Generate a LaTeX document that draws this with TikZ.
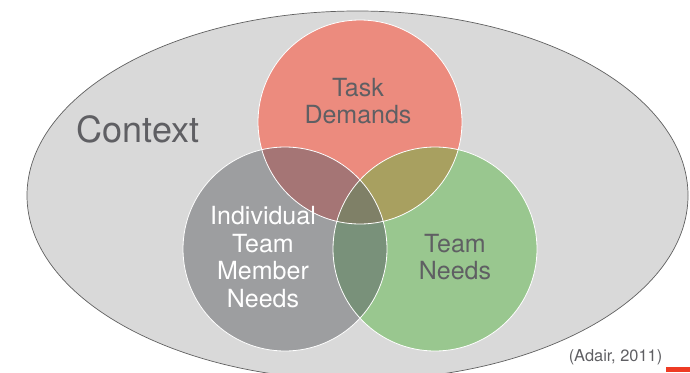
\documentclass[tikz,border=0pt]{standalone}
\usepackage{fontspec}
\setmainfont{TeX Gyre Heros}
\usetikzlibrary{shapes.geometric}
\definecolor{ctxgray}{HTML}{D9D9D9}
\definecolor{edgegray}{HTML}{606060}
\definecolor{taskred}{HTML}{EC8B7E}
\definecolor{indgray}{HTML}{9D9EA0}
\definecolor{teamgreen}{HTML}{99C78F}
\definecolor{redgray}{HTML}{A57575}
\definecolor{redgreen}{HTML}{A8A060}
\definecolor{graygreen}{HTML}{79917A}
\definecolor{allthree}{HTML}{7F8067}
\definecolor{txtgray}{HTML}{5F5F63}
\definecolor{markred}{HTML}{EE3B24}

\begin{document}
\begin{tikzpicture}[x=1pt, y=-1pt,
        ring/.style={circle, minimum size=204pt, inner sep=0pt},
        rim/.style={white, line width=0.8pt},
        lbl/.style={font=\fontsize{25}{27.5}\selectfont, text=txtgray, align=center},
        src/.style={font=\fontsize{16.4}{18}\selectfont, text=txtgray}
      ]
        \clip (0,0) rectangle (690,372);
        \node[ellipse, draw=edgegray, fill=ctxgray, line width=0.7pt, minimum width=661pt, minimum height=369pt, inner sep=0pt] (ctx) at (357.5,195.5) {};
        \node[ring, fill=taskred] (task) at (360,122) {};
        \node[ring, fill=indgray] (indiv) at (285,249) {};
        \node[ring, fill=teamgreen] (team) at (435,249) {};
        % overlaps
        \begin{scope}
          \clip (indiv.center) circle (102pt);
          \fill[graygreen] (team.center) circle (102pt);
        \end{scope}
        \begin{scope}
          \clip (task.center) circle (102pt);
          \fill[redgray] (indiv.center) circle (102pt);
          \fill[redgreen] (team.center) circle (102pt);
          \clip (indiv.center) circle (102pt);
          \fill[allthree] (team.center) circle (102pt);
        \end{scope}
        \foreach \c in {task,indiv,team} { \draw[rim] (\c.center) circle (102pt); }
        \node[lbl, font=\fontsize{36}{40}\selectfont] (ctxtxt) at (138,129) {Context};
        \node[lbl] (tasktxt) at (358,101) {Task\\Demands};
        \node[lbl] (teamtxt) at (455,257) {Team\\Needs};
        \node[lbl, text=white] (indivtxt) at (263,257) {Individual\\Team\\Member\\Needs};
        \node[src] (adair) at (615.5,357) {(Adair, 2011)};
        \fill[markred] (666,367) rectangle (690,372);
      \end{tikzpicture}
\end{document}
